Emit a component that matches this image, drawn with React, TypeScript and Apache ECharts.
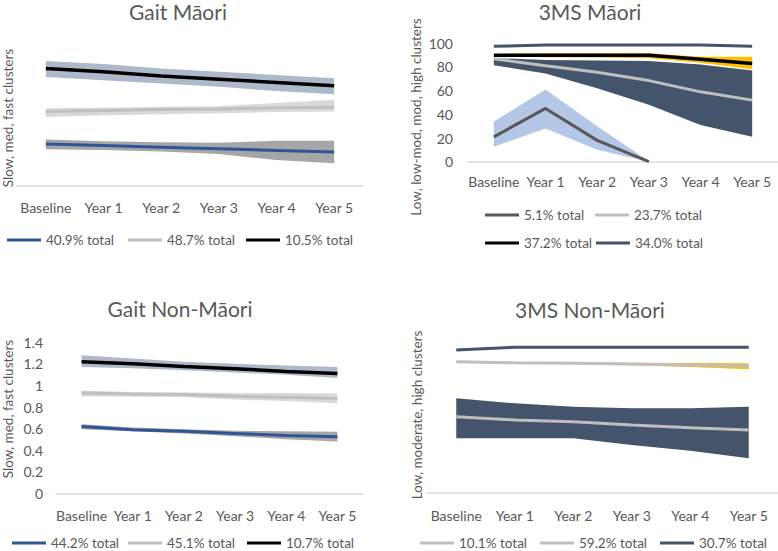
import React, { useEffect, useRef } from "react";
import * as echarts from "echarts";

const categories = ["Baseline", "Year 1", "Year 2", "Year 3", "Year 4", "Year 5"];

// Gait Māori
const gmSlow = [0.39, 0.375, 0.36, 0.345, 0.33, 0.315];
const gmSlowLo = [0.34, 0.333, 0.32, 0.296, 0.24, 0.21];
const gmSlowHi = [0.43, 0.415, 0.405, 0.40, 0.42, 0.42];
const gmMed = [0.69, 0.70, 0.71, 0.715, 0.725, 0.73];
const gmMedLo = [0.64, 0.655, 0.665, 0.675, 0.685, 0.69];
const gmMedHi = [0.72, 0.725, 0.735, 0.74, 0.77, 0.80];
const gmFast = [1.09, 1.06, 1.02, 0.99, 0.96, 0.93];
const gmFastLo = [1.01, 0.98, 0.95, 0.92, 0.88, 0.85];
const gmFastHi = [1.16, 1.13, 1.09, 1.06, 1.03, 1.0];

// 3MS Māori
const tmLow = [21, 45, 18, 0, null, null];
const tmLowLo = [12.7, 28, 10, 0, null, null];
const tmLowHi = [34, 61, 30, 0.5, null, null];
const tmLowMod = [87, 81, 75.5, 68.5, 59, 52];
const tmLowModLo = [81.5, 74.5, 62, 48, 31, 21];
const tmLowModHi = [87.5, 86, 85.5, 85, 82, 77];
const tmMod = [90, 90, 90, 90, 86.5, 83];
const tmModLo = [89, 88.2, 88, 87.3, 83.6, 78];
const tmModHi = [91, 91.5, 91.5, 91.5, 88.7, 88.7];
const tmHigh = [97.5, 98.5, 98.5, 98.5, 98.5, 97.5];

// Gait Non-Māori
const gnSlow = [0.62, 0.59, 0.575, 0.555, 0.535, 0.525];
const gnSlowLo = [0.595, 0.575, 0.555, 0.53, 0.5, 0.48];
const gnSlowHi = [0.64, 0.61, 0.595, 0.58, 0.575, 0.57];
const gnMed = [0.93, 0.92, 0.915, 0.9, 0.89, 0.88];
const gnMedLo = [0.9, 0.895, 0.89, 0.87, 0.855, 0.835];
const gnMedHi = [0.95, 0.94, 0.935, 0.93, 0.93, 0.925];
const gnFast = [1.22, 1.2, 1.175, 1.155, 1.13, 1.11];
const gnFastLo = [1.17, 1.16, 1.14, 1.12, 1.1, 1.07];
const gnFastHi = [1.28, 1.25, 1.22, 1.2, 1.185, 1.17];

// 3MS Non-Māori
const tnLow = [51, 48.8, 47.6, 45.4, 43.6, 42];
const tnLowLo = [36.4, 36.4, 36.4, 31.9, 28, 22.9];
const tnLowHi = [63.4, 60, 57.7, 56.6, 56.6, 57.7];
const tnMod = [88, 87.3, 87, 86.5, 85.8, 85.2];
const tnModLo = [87.9, 87.0, 86.6, 85.7, 84.5, 83];
const tnModHi = [88.2, 87.6, 87.3, 87.3, 87.2, 87];
const tnHigh = [96, 97.8, 97.8, 97.8, 97.8, 97.8];

const titles = ["Gait Māori", "3MS Māori", "Gait Non-Māori", "3MS Non-Māori"];
const yNames = [
  "Slow, med, fast clusters",
  "Low, low-mod, mod, high clusters",
  "Slow, med, fast clusters",
  "Low, moderate, high clusters",
];
const legendNames = [
  ["40.9% total", "48.7% total", "10.5% total"],
  ["5.1% total", "23.7% total", "37.2% total", "34.0% total"],
  ["44.2% total", "45.1% total", "10.7% total"],
  ["10.1% total", "59.2% total", "30.7% total"],
];

const FONT = "Lato, 'Open Sans', sans-serif";
const TXT = "#595959";
const C = {
  blue: "#2F5597",
  lgray: "#BFBFBF",
  black: "#000000",
  dgray: "#595959",
  navy: "#44546A",
  bandBlueGray: "#ADB9CA",
  bandLight: "#D9D9D9",
  bandMid: "#A6A6A6",
  bandLightBlue: "#B4C7E7",
  yellow: "#FFC000",
};

function band(idx: number, lo: (number | null)[], hi: (number | null)[], color: string, id: string) {
  const diff = hi.map((h, i) => (h == null || lo[i] == null ? null : +((h as number) - (lo[i] as number)).toFixed(4)));
  return [
    {
      type: "line", xAxisIndex: idx, yAxisIndex: idx, data: lo, stack: id, symbol: "none",
      lineStyle: { opacity: 0, width: 0 }, silent: true, z: 1,
    },
    {
      type: "line", xAxisIndex: idx, yAxisIndex: idx, data: diff, stack: id, symbol: "none",
      lineStyle: { opacity: 0, width: 0 }, areaStyle: { color, opacity: 1 }, silent: true, z: 1,
    },
  ];
}

function line(idx: number, name: string, data: (number | null)[], color: string, width = 3) {
  return {
    type: "line", name, xAxisIndex: idx, yAxisIndex: idx, data, symbol: "none",
    lineStyle: { color, width }, itemStyle: { color }, z: 3,
  };
}

export default function App() {
  const ref = useRef<HTMLDivElement>(null);
  useEffect(() => {
    if (!ref.current) return;
    const chart = echarts.init(ref.current, null, { renderer: "svg" });

    const grids = [
      { left: 17, top: 35, width: 346, height: 151 },
      { left: 468, top: 43.3, width: 310, height: 118.4 },
      { left: 56, top: 342.3, width: 307, height: 151 },
      { left: 427, top: 344, width: 351, height: 148.3 },
    ];
    const labelMargins = [14, 13, 15, 16];
    const xAxes = grids.map((_, i) => ({
      type: "category", gridIndex: i, data: categories, boundaryGap: true,
      axisTick: { show: false },
      axisLine: { lineStyle: { color: "#D9D9D9", width: 1.5 } },
      axisLabel: { interval: 0, color: TXT, fontSize: 14, fontFamily: FONT, margin: labelMargins[i] },
    }));
    const yAxes = [
      { gridIndex: 0, type: "value", min: 0, max: 1.4, show: false },
      {
        gridIndex: 1, type: "value", min: 0, max: 100, interval: 20,
        splitLine: { show: false }, axisLine: { show: false }, axisTick: { show: false },
        axisLabel: { color: TXT, fontSize: 14, fontFamily: FONT, margin: 15 },
      },
      {
        gridIndex: 2, type: "value", min: 0, max: 1.4, interval: 0.2,
        splitLine: { show: false }, axisLine: { show: false }, axisTick: { show: false },
        axisLabel: { color: TXT, fontSize: 14, fontFamily: FONT, margin: 13 },
      },
      { gridIndex: 3, type: "value", min: 0, max: 100, show: false },
    ];

    const series: any[] = [
      ...band(0, gmFastLo, gmFastHi, C.bandBlueGray, "g0a"),
      ...band(0, gmMedLo, gmMedHi, C.bandLight, "g0b"),
      ...band(0, gmSlowLo, gmSlowHi, C.bandMid, "g0c"),
      line(0, legendNames[0][0], gmSlow, C.blue),
      line(0, legendNames[0][1], gmMed, C.lgray),
      line(0, legendNames[0][2], gmFast, C.black, 3.5),

      ...band(1, tmLowModLo, tmLowModHi, C.navy, "g1a"),
      ...band(1, tmModLo, tmModHi, C.yellow, "g1b"),
      ...band(1, tmLowLo, tmLowHi, C.bandLightBlue, "g1c"),
      line(1, legendNames[1][0], tmLow, C.dgray),
      line(1, legendNames[1][1], tmLowMod, C.lgray),
      line(1, legendNames[1][2], tmMod, C.black, 3.5),
      line(1, legendNames[1][3], tmHigh, C.navy),

      ...band(2, gnFastLo, gnFastHi, C.bandBlueGray, "g2a"),
      ...band(2, gnMedLo, gnMedHi, C.bandLight, "g2b"),
      ...band(2, gnSlowLo, gnSlowHi, C.bandMid, "g2c"),
      line(2, legendNames[2][0], gnSlow, C.blue),
      line(2, legendNames[2][1], gnMed, C.lgray),
      line(2, legendNames[2][2], gnFast, C.black, 3.5),

      ...band(3, tnLowLo, tnLowHi, C.navy, "g3a"),
      ...band(3, tnModLo, tnModHi, C.yellow, "g3b"),
      line(3, legendNames[3][0], tnLow, C.lgray),
      line(3, legendNames[3][1], tnMod, C.lgray),
      line(3, legendNames[3][2], tnHigh, C.navy),
    ];

    const legendPos: [number, number, number][] = [
      [0, 7, 240], [0, 128, 240], [0, 246, 240],
      [1, 485, 215], [1, 595, 215], [1, 485, 243], [1, 596, 243],
      [2, 12, 543], [2, 128, 543], [2, 247, 543],
      [3, 420, 543], [3, 540, 543], [3, 660, 543],
    ];
    const counters = [0, 0, 0, 0];
    const legends = legendPos.map(([p, x, y]) => {
      const name = legendNames[p][counters[p]++];
      return {
        data: [name], left: x, top: y - 7, padding: 0, itemGap: 0,
        itemWidth: 34, itemHeight: 3, icon: "rect", selectedMode: false,
        textStyle: { color: TXT, fontSize: 13.5, fontFamily: FONT, lineHeight: 14 },
      };
    });

    const titlePos: [number, number][] = [[178, 11], [590, 11], [180, 308], [590, 309]];
    const titleOpts = titles.map((t, i) => ({
      text: t, left: titlePos[i][0], top: titlePos[i][1], padding: 0,
      textAlign: "center", textVerticalAlign: "middle",
      textStyle: { color: TXT, fontSize: 21, fontWeight: "normal", fontFamily: FONT, lineHeight: 21 },
    }));

    const yNamePos: [number, number][] = [[8, 118], [416, 117], [8, 409], [417, 415]];
    const graphics = yNames.map((t, i) => ({
      type: "text", x: yNamePos[i][0], y: yNamePos[i][1], rotation: Math.PI / 2,
      style: { text: t, fill: TXT, fontSize: 13.5, fontFamily: FONT, align: "center", verticalAlign: "middle" },
    }));

    chart.setOption({
      animation: false,
      backgroundColor: "#ffffff",
      title: titleOpts,
      legend: legends,
      grid: grids,
      xAxis: xAxes,
      yAxis: yAxes,
      series,
      graphic: graphics,
    });
    return () => chart.dispose();
  }, []);
  return <div ref={ref} style={{ position: "fixed", left: 0, top: 0, width: 778, height: 551 }} />;
}
